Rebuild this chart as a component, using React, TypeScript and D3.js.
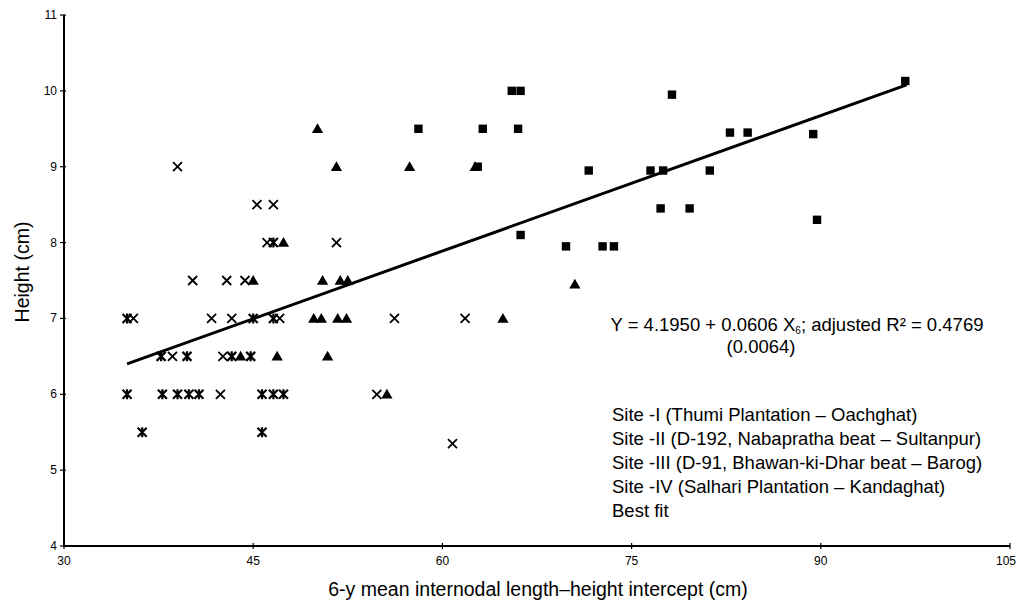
import * as d3 from "d3";

// Site I: squares
const siteIX = [62.8, 58.1, 63.2, 66.0, 65.5, 66.2, 78.2, 82.8, 84.2, 89.4, 96.7, 71.6, 76.5, 77.5, 81.2, 77.3, 79.6, 89.7, 66.2, 69.8, 72.7, 73.6];
const siteIY = [9.0, 9.5, 9.5, 9.5, 10.0, 10.0, 9.95, 9.45, 9.45, 9.43, 10.13, 8.95, 8.95, 8.95, 8.95, 8.45, 8.45, 8.3, 8.1, 7.95, 7.95, 7.95];

// Site II: triangles
const siteIIX = [49.8, 50.4, 51.7, 52.4, 64.8, 44.0, 46.9, 50.9, 55.6, 51.6, 57.4, 62.6, 50.1, 47.4, 45.0, 50.5, 51.9, 52.5, 70.5];
const siteIIY = [7.0, 7.0, 7.0, 7.0, 7.0, 6.5, 6.5, 6.5, 6.0, 9.0, 9.0, 9.0, 9.5, 8.0, 7.5, 7.5, 7.5, 7.5, 7.45];

// Site III: crosses
const siteIIIX = [35.5, 41.7, 43.3, 47.1, 56.2, 61.8, 38.6, 42.6, 42.4, 54.8, 60.8, 39.0, 45.3, 46.6, 46.1, 51.6, 40.2, 42.9, 44.35];
const siteIIIY = [7.0, 7.0, 7.0, 7.0, 7.0, 7.0, 6.5, 6.5, 6.0, 6.0, 5.35, 9.0, 8.5, 8.5, 8.0, 8.0, 7.5, 7.5, 7.5];

// Site IV: stars
const siteIVX = [35.0, 45.0, 46.6, 37.7, 39.75, 43.3, 44.8, 35.0, 37.8, 39.0, 39.9, 40.7, 45.7, 46.6, 47.4, 36.2, 45.7, 46.6];
const siteIVY = [7.0, 7.0, 7.0, 6.5, 6.5, 6.5, 6.5, 6.0, 6.0, 6.0, 6.0, 6.0, 6.0, 6.0, 6.0, 5.5, 5.5, 8.0];

const fitX = [35, 96.8];
const fitY = [6.4, 10.08];

const xTicks = [30, 45, 60, 75, 90, 105];
const yTicks = [4, 5, 6, 7, 8, 9, 10, 11];

const legendLabels = [
  "Site -I (Thumi Plantation – Oachghat)",
  "Site -II (D-192, Nabapratha beat – Sultanpur)",
  "Site -III (D-91, Bhawan-ki-Dhar beat – Barog)",
  "Site -IV (Salhari Plantation – Kandaghat)",
  "Best fit",
];

const font = "'Liberation Sans', Arial, Helvetica, sans-serif";

export default function App() {
  const x = d3.scaleLinear().domain([30, 105]).range([64, 1010]);
  const y = d3.scaleLinear().domain([4, 11]).range([546, 15]);
  const line = d3.line<number>().x((d, i) => x(fitX[i])).y((d, i) => y(fitY[i]));

  const sq = 4.2;
  const tri = d3.symbol().type(d3.symbolTriangle).size(55)();
  const cr = 4.5;

  return (
    <svg width={1018} height={606} style={{ display: "block", background: "#fff" }} fontFamily={font}>
      <style>{`body{margin:0}`}</style>

      {/* axes */}
      <line x1={x(30)} x2={x(105)} y1={y(4)} y2={y(4)} stroke="#000" strokeWidth={2} />
      <line x1={x(30)} x2={x(30)} y1={y(4)} y2={y(11)} stroke="#000" strokeWidth={2} />
      {xTicks.map((t, i) => (
        <g key={"xt" + t}>
          <line x1={x(t)} x2={x(t)} y1={y(4) - 3} y2={y(4) + 3} stroke="#000" strokeWidth={1.2} />
          <text x={i === xTicks.length - 1 ? x(t) - 4 : x(t)} y={y(4) + 19} textAnchor="middle" fontSize={12}>{t}</text>
        </g>
      ))}
      {yTicks.map((t) => (
        <g key={"yt" + t}>
          <line x1={x(30) - 4} x2={x(30) + 2} y1={y(t)} y2={y(t)} stroke="#000" strokeWidth={1.2} />
          <text x={x(30) - 7} y={y(t) + 4} textAnchor="end" fontSize={12}>{t}</text>
        </g>
      ))}
      <text x={538} y={596} textAnchor="middle" fontSize={19.5}>6-y mean internodal length–height intercept (cm)</text>
      <text transform={`translate(29,${272}) rotate(-90)`} textAnchor="middle" fontSize={19.5}>Height (cm)</text>

      {/* best fit */}
      <path d={line(fitX) || ""} fill="none" stroke="#000" strokeWidth={3} />

      {/* Site I squares */}
      {siteIX.map((v, i) => (
        <rect key={"s1" + i} x={x(v) - sq} y={y(siteIY[i]) - sq} width={sq * 2} height={sq * 2} fill="#000" />
      ))}
      {/* Site II triangles */}
      {siteIIX.map((v, i) => (
        <path key={"s2" + i} d={tri || ""} transform={`translate(${x(v)},${y(siteIIY[i]) + 1})`} fill="#000" />
      ))}
      {/* Site III crosses */}
      {siteIIIX.map((v, i) => (
        <path key={"s3" + i} d={`M${-cr},${-cr}L${cr},${cr}M${-cr},${cr}L${cr},${-cr}`}
          transform={`translate(${x(v)},${y(siteIIIY[i])})`} stroke="#000" strokeWidth={1.8} fill="none" />
      ))}
      {/* Site IV stars */}
      {siteIVX.map((v, i) => (
        <path key={"s4" + i} d={`M${-cr},${-cr}L${cr},${cr}M${-cr},${cr}L${cr},${-cr}M0,${-cr - 0.5}L0,${cr + 0.5}`}
          transform={`translate(${x(v)},${y(siteIVY[i])})`} stroke="#000" strokeWidth={2.2} fill="none" />
      ))}

      {/* equation */}
      <text x={797} y={331} textAnchor="middle" fontSize={18.5}>
        Y = 4.1950 + 0.0606 X<tspan fontSize={10} dy={3}>6</tspan><tspan dy={-3}>; adjusted R² = 0.4769</tspan>
      </text>
      <text x={761} y={353} textAnchor="middle" fontSize={18.5}>(0.0064)</text>

      {/* legend */}
      {legendLabels.map((s, i) => (
        <text key={s} x={612} y={421 + i * 24} fontSize={18.5}>{s}</text>
      ))}
    </svg>
  );
}
